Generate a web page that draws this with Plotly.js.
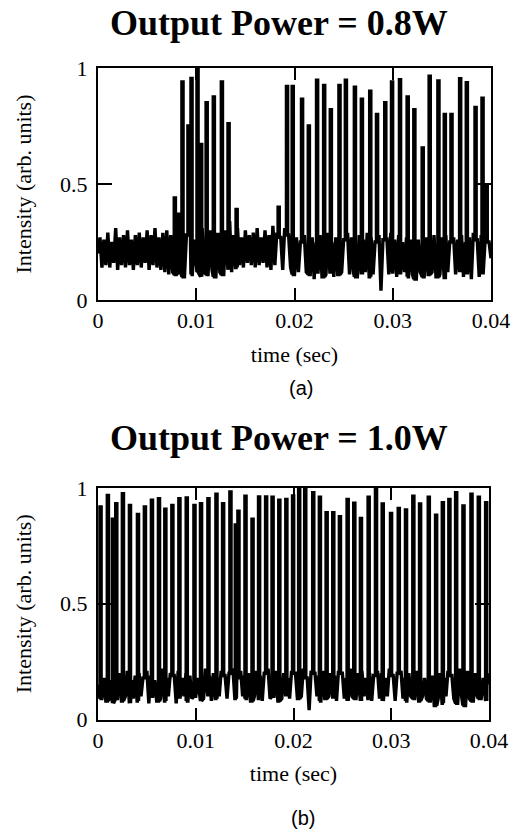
<!DOCTYPE html>
<html>
<head>
<meta charset="utf-8">
<script src="https://cdn.plot.ly/plotly-3.0.1.min.js"></script>
<style>html,body{margin:0;padding:0;background:#fff;}</style>
</head>
<body>
<div id="chart" style="width:515px;height:829px;"></div>
<script>
// ---- Panel (a): Output Power = 0.8W ----
const spikeTimesA = [0.00776,0.0082,0.00854,0.00915,0.00946,0.01007,0.01044,0.0110,0.01173,0.01255,0.01323,0.01405,
  0.01833,0.01918,0.01976,0.02071,0.0214,0.02224,0.02296,0.02364,0.02452,0.02517,0.02609,0.0268,0.02765,0.02834,
  0.02918,0.02987,0.03068,0.03146,0.03214,0.03299,0.0337,0.03459,0.03524,0.03592,0.0368,0.03748,0.03837,0.03908,0.0395];
const spikePeaksA = [0.44,0.37,0.94,0.75,0.955,1.0,0.67,0.85,0.875,0.94,0.76,0.39,
  0.40,0.92,0.92,0.865,0.75,0.947,0.925,0.82,0.925,0.947,0.917,0.865,0.90,0.80,
  0.85,0.94,0.95,0.875,0.82,0.655,0.965,0.944,0.80,0.80,0.954,0.937,0.83,0.87,0.49];
// baseline samples every 0.2 ms (0 .. 0.04 s)
const baselineA = [
  0.20,0.27,0.14,0.26,0.15,0.29,0.14,0.25,0.16,0.31,0.13,0.27,0.15,0.28,0.14,0.30,0.15,0.26,0.13,0.28,
  0.15,0.29,0.14,0.27,0.16,0.30,0.13,0.28,0.15,0.31,0.14,0.27,0.13,0.29,0.12,0.30,0.11,0.28,0.12,0.33,
  0.11,0.27,0.12,0.29,0.10,0.28,0.13,0.30,0.11,0.26,0.12,0.29,0.10,0.31,0.12,0.27,0.11,0.30,0.13,0.28,
  0.10,0.29,0.12,0.27,0.11,0.30,0.13,0.34,0.12,0.28,0.14,0.31,0.15,0.27,0.14,0.30,0.16,0.28,0.15,0.29,
  0.14,0.31,0.15,0.27,0.16,0.30,0.14,0.28,0.13,0.32,0.15,0.29,0.14,0.27,0.13,0.31,0.12,0.28,0.14,0.26,
  0.11,0.27,0.12,0.25,0.10,0.28,0.12,0.26,0.11,0.27,0.09,0.25,0.12,0.28,0.10,0.26,0.11,0.29,0.12,0.25,
  0.10,0.27,0.11,0.28,0.12,0.26,0.09,0.29,0.11,0.27,0.12,0.25,0.10,0.28,0.11,0.26,0.12,0.29,0.10,0.27,
  0.11,0.25,0.12,0.28,0.04,0.26,0.10,0.27,0.11,0.29,0.12,0.26,0.10,0.28,0.11,0.25,0.12,0.27,0.10,0.26,
  0.11,0.28,0.09,0.26,0.12,0.29,0.10,0.27,0.11,0.25,0.12,0.28,0.10,0.26,0.11,0.27,0.09,0.28,0.12,0.25,
  0.10,0.27,0.11,0.26,0.12,0.28,0.10,0.25,0.11,0.27,0.09,0.29,0.12,0.26,0.10,0.28,0.11,0.26,0.10,0.25,0.18];

// ---- Panel (b): Output Power = 1.0W ----
const spikeTimesB = [0.00020,0.00095,0.00147,0.00181,0.00249,0.00321,0.00403,0.00474,0.00546,0.00618,0.00683,0.00755,
  0.00827,0.00902,0.00981,0.01048,0.01124,0.01206,0.01274,0.01349,0.01404,0.01431,0.01503,0.01575,0.01642,0.01714,
  0.01780,0.01849,0.01921,0.01990,0.02052,0.02114,0.02196,0.02264,0.02333,0.02401,0.02469,0.02548,0.02616,0.02684,
  0.02763,0.02838,0.02907,0.02992,0.03071,0.03145,0.03220,0.03289,0.03378,0.03453,0.03522,0.03589,0.03658,0.03733,
  0.03815,0.03890,0.03965];
const spikePeaksB = [0.918,0.968,0.865,0.932,0.975,0.925,0.886,0.918,0.947,0.954,0.908,0.925,
  0.954,0.957,0.925,0.932,0.954,0.973,0.932,0.983,0.84,0.90,0.965,0.865,0.961,0.961,
  0.96,0.947,0.951,0.966,1.0,1.0,0.98,0.96,0.893,0.893,0.876,0.951,0.934,0.869,
  0.96,1.0,0.931,0.89,0.912,0.905,0.965,0.931,0.96,0.883,0.937,0.951,0.98,0.922,
  0.973,0.96,0.937];
const baselineB = [
  0.15,0.20,0.09,0.18,0.08,0.21,0.10,0.17,0.07,0.19,0.09,0.20,0.08,0.18,0.10,0.21,0.07,0.17,0.09,0.19,
  0.08,0.20,0.10,0.18,0.09,0.21,0.07,0.19,0.10,0.17,0.08,0.20,0.09,0.22,0.08,0.18,0.10,0.20,0.09,0.19,
  0.07,0.21,0.09,0.18,0.10,0.20,0.08,0.19,0.09,0.21,0.10,0.18,0.08,0.20,0.09,0.22,0.10,0.19,0.08,0.20,
  0.09,0.18,0.10,0.21,0.08,0.19,0.09,0.20,0.10,0.22,0.09,0.18,0.08,0.21,0.10,0.19,0.09,0.20,0.08,0.18,
  0.10,0.21,0.09,0.19,0.08,0.20,0.10,0.22,0.09,0.18,0.10,0.21,0.08,0.19,0.09,0.20,0.10,0.18,0.09,0.21,
  0.08,0.20,0.09,0.19,0.10,0.22,0.08,0.18,0.04,0.21,0.09,0.20,0.10,0.19,0.08,0.21,0.09,0.18,0.10,0.20,
  0.09,0.19,0.08,0.21,0.10,0.20,0.09,0.18,0.08,0.22,0.10,0.19,0.09,0.20,0.08,0.21,0.10,0.18,0.09,0.20,
  0.08,0.19,0.10,0.21,0.09,0.20,0.08,0.18,0.10,0.22,0.09,0.19,0.08,0.20,0.10,0.21,0.09,0.18,0.08,0.20,
  0.10,0.19,0.09,0.21,0.08,0.20,0.10,0.18,0.09,0.22,0.08,0.19,0.06,0.21,0.09,0.20,0.07,0.18,0.10,0.21,
  0.06,0.19,0.09,0.20,0.07,0.22,0.10,0.18,0.06,0.21,0.09,0.19,0.08,0.20,0.10,0.21,0.09,0.18,0.08,0.20,0.15];

const sampleStep = 0.0002;
const xTickVals = [0, 0.01, 0.02, 0.03, 0.04];
const xTickText = ['0', '0.01', '0.02', '0.03', '0.04'];
const yTickVals = [0, 0.5, 1];
const yTickText = ['0', '0.5', '1'];
const titleA = 'Output Power = 0.8W';
const titleB = 'Output Power = 1.0W';

// merge baseline samples with vertical spike bars
function buildSeries(base, st, sh) {
  const barW = 0.00012;
  const pts = [];
  base.forEach((v, i) => {
    const t = i * sampleStep;
    const inside = st.some(s => t >= s - 0.00001 && t <= s + barW + 0.00001);
    if (!inside) pts.push([t, v, 0]);
  });
  st.forEach((s, k) => {
    const before = base[Math.max(0, Math.floor(s / sampleStep))];
    const after = base[Math.min(base.length - 1, Math.ceil((s + barW) / sampleStep))];
    const low = Math.min(before, after);
    pts.push([s, low, 1]);
    pts.push([s, sh[k], 2]);
    pts.push([s + barW, sh[k], 3]);
    pts.push([s + barW, low, 4]);
  });
  pts.sort((a, b) => (a[0] - b[0]) || (a[2] - b[2]));
  return { x: pts.map(p => p[0]), y: pts.map(p => p[1]) };
}

const sa = buildSeries(baselineA, spikeTimesA, spikePeaksA);
const sb = buildSeries(baselineB, spikeTimesB, spikePeaksB);

const W = 515, H = 829;
const serif = 'Liberation Serif, Times New Roman, serif';

const traces = [
  { x: sa.x, y: sa.y, type: 'scatter', mode: 'lines', line: { color: '#000', width: 3.4 }, xaxis: 'x', yaxis: 'y', hoverinfo: 'skip' },
  { x: sb.x, y: sb.y, type: 'scatter', mode: 'lines', line: { color: '#000', width: 3.4 }, xaxis: 'x2', yaxis: 'y2', hoverinfo: 'skip' }
];

function xAxis(domain, anchor) {
  return {
    domain: domain, anchor: anchor, range: [0, 0.04],
    tickmode: 'array', tickvals: xTickVals, ticktext: xTickText,
    ticks: 'inside', ticklen: 12, tickwidth: 2, tickcolor: '#000',
    mirror: 'ticks', showline: true, linewidth: 2, linecolor: '#000',
    showgrid: false, zeroline: false, ticklabelstandoff: 0,
    tickfont: { family: serif, size: 22, color: '#000' },
    title: { text: 'time (sec)', font: { family: serif, size: 22, color: '#000' }, standoff: 14 }
  };
}
function yAxis(domain, anchor) {
  return {
    domain: domain, anchor: anchor, range: [0, 1],
    tickmode: 'array', tickvals: yTickVals, ticktext: yTickText,
    ticks: 'inside', ticklen: 14, tickwidth: 2, tickcolor: '#000',
    mirror: 'ticks', showline: true, linewidth: 2, linecolor: '#000',
    showgrid: false, zeroline: false, ticklabelstandoff: 4,
    tickfont: { family: serif, size: 22, color: '#000' },
    title: { text: 'Intensity (arb. units)', font: { family: serif, size: 22, color: '#000' }, standoff: 22 }
  };
}

const layout = {
  width: W, height: H,
  margin: { l: 0, r: 0, t: 0, b: 0 },
  paper_bgcolor: '#fff', plot_bgcolor: '#fff',
  showlegend: false,
  font: { family: serif, color: '#000' },
  xaxis: xAxis([98 / W, 491 / W], 'y'),
  yaxis: yAxis([(H - 300) / H, (H - 68) / H], 'x'),
  xaxis2: xAxis([98 / W, 489 / W], 'y2'),
  yaxis2: yAxis([(H - 719.5) / H, (H - 488) / H], 'x2'),
  annotations: [
    { text: '<b>' + titleA + '</b>', xref: 'paper', yref: 'paper', x: 279 / W, y: (H - 23) / H, xanchor: 'center', yanchor: 'middle', showarrow: false, font: { family: serif, size: 36, color: '#000' } },
    { text: '<b>' + titleB + '</b>', xref: 'paper', yref: 'paper', x: 279 / W, y: (H - 438) / H, xanchor: 'center', yanchor: 'middle', showarrow: false, font: { family: serif, size: 36, color: '#000' } },
    { text: '(a)', xref: 'paper', yref: 'paper', x: 301 / W, y: (H - 388) / H, xanchor: 'center', yanchor: 'middle', showarrow: false, font: { family: 'Liberation Sans, Arial, sans-serif', size: 20, color: '#000' } },
    { text: '(b)', xref: 'paper', yref: 'paper', x: 303 / W, y: (H - 818) / H, xanchor: 'center', yanchor: 'middle', showarrow: false, font: { family: 'Liberation Sans, Arial, sans-serif', size: 20, color: '#000' } }
  ]
};

Plotly.newPlot('chart', traces, layout, { staticPlot: true, displayModeBar: false });
</script>
</body>
</html>
